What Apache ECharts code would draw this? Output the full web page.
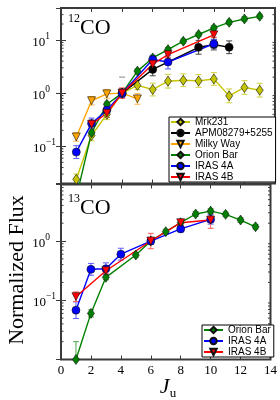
<!DOCTYPE html>
<html><head><meta charset="utf-8">
<script src="https://cdn.jsdelivr.net/npm/echarts@6/dist/echarts.min.js"></script>
<style>html,body{margin:0;padding:0;background:#fff}#c{width:280px;height:400px}</style>
</head><body><div id="c"></div>
<script>
// ---------- 12CO panel ----------
const mrkJ = [1,2,3,4,5,6,7,8,9,10,11,12,13];
const mrkF = [0.024,0.16,0.40,1.0,1.40,1.17,1.68,1.75,1.70,1.85,0.89,1.28,1.14];
const mrkE = [0.1,0.1,0.1,0.06,0.08,0.12,0.13,0.12,0.12,0.12,0.13,0.13,0.13];
const apmJ = [4,6,9,10,11];
const apmF = [1.0,2.8,7.3,8.2,7.3];
const apmE = [0.05,0.12,0.13,0.1,0.12];
const mwJ = [1,2,3,4,5];
const mwF = [0.15,0.72,0.97,1.0,0.78];
const mwE = [0.08,0.08,0.08,0.08,0.1];
const orJ = [1,2,3,4,5,6,7,8,9,10,11,12,13];
const orF = [0.011,0.18,0.62,1.0,2.6,4.6,6.6,9.5,12.7,16.9,21.5,24.9,27.9];
const orE = [0.05,0.05,0.04,0.04,0.04,0.04,0.04,0.04,0.04,0.04,0.04,0.04,0.04];
const a4J = [1,2,3,4,6,7,10];
const a4F = [0.078,0.27,0.48,1.0,4.3,3.85,8.5];
const a4E = [0.12,0.1,0.08,0.08,0.08,0.13,0.08];
const b4J = [2,3,4,6,7,10];
const b4F = [0.26,0.42,1.0,3.5,5.3,12.5];
const b4E = [0.05,0.08,0.1,0.06,0.05,0.05];
const apmLimitJ = [4];
const apmLimitF = [2.0];
// ---------- 13CO panel ----------
const or13J = [1,2,3,5,6,7,8,9,10,11,12,13];
const or13F = [0.01,0.06,0.244,0.58,1.0,1.44,2.04,2.86,3.2,2.82,2.26,1.74];
const or13E = [0.3,0.06,0.04,0.04,0.04,0.04,0.04,0.04,0.04,0.04,0.04,0.04];
const a413J = [1,2,3,4,6,8,10];
const a413F = [0.068,0.333,0.34,0.60,1.0,1.6,2.32];
const a413E = [0.14,0.1,0.1,0.1,0.06,0.05,0.08];
const b413J = [1,3,6,8,10];
const b413F = [0.115,0.315,1.0,2.04,2.26];
const b413E = [0.08,0.05,0.13,0.05,0.14];
// ---------- axes ----------
const xTicks = [0,2,4,6,8,10,12,14];
const topRange = [0.02, 40];
const botRange = [0.01, 9];
const legendTop = ['Mrk231','APM08279+5255','Milky Way','Orion Bar','IRAS 4A','IRAS 4B'];
const legendBot = ['Orion Bar','IRAS 4A','IRAS 4B'];

const serif = '"Liberation Serif", "DejaVu Serif", serif';
const sans = '"Liberation Sans", Arial, sans-serif';
const frame = '#3a3a3a';

const styles = {
  'Mrk231':        {color:'#c4c400', err:'#d0d040', symbol:'diamond', size:[7,10], rot:0},
  'APM08279+5255': {color:'#000000', err:'#444444', symbol:'circle', size:8, rot:0},
  'Milky Way':     {color:'#ffa500', err:'#ffb640', symbol:'triangle', size:8, rot:180},
  'Orion Bar':     {color:'#008000', err:'#4da64d', symbol:'diamond', size:[7,10], rot:0},
  'IRAS 4A':       {color:'#0000ff', err:'#5c5cff', symbol:'circle', size:8, rot:0},
  'IRAS 4B':       {color:'#ff0000', err:'#ff5c5c', symbol:'triangle', size:8, rot:180}
};

function pairs(J, F) { return J.map((j,i)=>[j, F[i]]); }
function errData(J, F, E) { return J.map((j,i)=>[j, F[i]/Math.pow(10,E[i]), F[i]*Math.pow(10,E[i])]); }

function lineSeries(name, J, F, idx) {
  const s = styles[name];
  return {
    type:'line', name, xAxisIndex:idx*2, yAxisIndex:idx*2, data:pairs(J,F),
    symbol:s.symbol, symbolSize:s.size, symbolRotate:s.rot, clip:true,
    lineStyle:{color:s.color, width:1.4},
    itemStyle:{color:s.color, borderColor:'#111', borderWidth:0.6},
    z:3, animation:false, emphasis:{disabled:true}
  };
}
function errSeries(name, J, F, E, idx) {
  const s = styles[name];
  return {
    type:'custom', xAxisIndex:idx*2, yAxisIndex:idx*2, data:errData(J,F,E), clip:true, z:2,
    animation:false, silent:true,
    renderItem(params, api) {
      const a = api.coord([api.value(0), api.value(1)]);
      const b = api.coord([api.value(0), api.value(2)]);
      const st = {stroke:s.err, lineWidth:1};
      return {type:'group', children:[
        {type:'line', shape:{x1:a[0], y1:a[1], x2:b[0], y2:b[1]}, style:st},
        {type:'line', shape:{x1:a[0]-3, y1:a[1], x2:a[0]+3, y2:a[1]}, style:st},
        {type:'line', shape:{x1:b[0]-3, y1:b[1], x2:b[0]+3, y2:b[1]}, style:st}
      ]};
    }
  };
}
function minorVals(r) {
  const out = [];
  for (let k=-3;k<=2;k++) for (let m=2;m<=9;m++) { const v=m*Math.pow(10,k); if (v>r[0]*1.001 && v<r[1]*0.999) out.push([0,v]); }
  return out;
}
function minorSeries(r, idx) {
  return {
    type:'custom', xAxisIndex:idx*2, yAxisIndex:idx*2, data:minorVals(r), z:1, silent:true, animation:false,
    renderItem(params, api) {
      const L = api.coord([xTicks[0], api.value(1)]);
      const R = api.coord([xTicks[xTicks.length-1], api.value(1)]);
      const st = {stroke:frame, lineWidth:1};
      return {type:'group', children:[
        {type:'line', shape:{x1:L[0], y1:L[1], x2:L[0]+2.5, y2:L[1]}, style:st},
        {type:'line', shape:{x1:R[0]-2.5, y1:R[1], x2:R[0], y2:R[1]}, style:st}
      ]};
    }
  };
}

function yLabel(v) {
  const e = Math.round(Math.log10(v));
  const t = String(e).replace('-', '\u2212');
  return e < 0 ? '{b|10}{s|' + t + '}' : '{b|10}{sp|' + t + '}';
}
const yRich = {
  b:{fontFamily:serif, fontSize:13, lineHeight:18, verticalAlign:'bottom', color:'#000'},
  s:{fontFamily:serif, fontSize:9.5, lineHeight:9, verticalAlign:'top', color:'#000'},
  sp:{fontFamily:serif, fontSize:9.5, lineHeight:9, verticalAlign:'top', color:'#000', padding:[0,6,0,0]}
};

function xAx(grid, pos, labels) {
  return {
    type:'value', gridIndex:grid, position:pos, min:xTicks[0], max:xTicks[xTicks.length-1], interval:2,
    axisLine:{show:false}, splitLine:{show:false},
    axisTick:{show:true, inside:true, length:4, lineStyle:{color:frame, width:1}},
    axisLabel:{show:labels, margin:5, fontFamily:serif, fontSize:13, color:'#000', showMinLabel:true, showMaxLabel:true}
  };
}
function yAx(grid, pos, r, labels) {
  return {
    type:'log', logBase:10, gridIndex:grid, position:pos, min:r[0], max:r[1],
    axisLine:{show:false}, splitLine:{show:false},
    axisTick:{show:true, inside:true, length:5, lineStyle:{color:frame, width:1}},
    axisLabel:{show:labels, margin:5, formatter:yLabel, rich:yRich, showMinLabel:false, showMaxLabel:false}
  };
}

const legendCommon = {
  orient:'vertical', backgroundColor:'#fff', borderColor:'#000', borderWidth:1, borderRadius:0,
  padding:[0,3,0,1], itemGap:1, itemWidth:19, itemHeight:8, selectedMode:false, z:10,
  textStyle:{fontFamily:sans, fontSize:10, color:'#000', lineHeight:8}
};
const titleRich = {
  s:{fontFamily:serif, fontSize:12, fontWeight:'normal', lineHeight:22, verticalAlign:'top', color:'#000'},
  b:{fontFamily:serif, fontSize:22, fontWeight:'normal', lineHeight:26, verticalAlign:'bottom', color:'#000'}
};

const option = {
  animation:false,
  backgroundColor:'#fff',
  grid:[
    {left:61, top:8, width:214, height:175.5, show:true, borderColor:frame, borderWidth:2, backgroundColor:'transparent'},
    {left:61, top:184.5, width:214, height:175, show:true, borderColor:frame, borderWidth:2, backgroundColor:'transparent'}
  ],
  xAxis:[xAx(0,'bottom',false), xAx(0,'top',false), xAx(1,'bottom',true), xAx(1,'top',false)],
  yAxis:[yAx(0,'left',topRange,true), yAx(0,'right',topRange,false), yAx(1,'left',botRange,true), yAx(1,'right',botRange,false)],
  legend:[
    Object.assign({data:legendTop, left:169, top:117}, legendCommon),
    Object.assign({data:legendBot, left:202, top:325}, legendCommon)
  ],
  title:[
    {text:'{s|12}{b|CO}', left:68, top:13, padding:0, textStyle:{fontWeight:'normal', rich:titleRich}},
    {text:'{s|13}{b|CO}', left:68, top:193, padding:0, textStyle:{fontWeight:'normal', rich:titleRich}}
  ],
  graphic:[
    {type:'text', x:17, y:270, rotation:Math.PI/2, silent:true,
     style:{text:'Normalized Flux', font:'22px ' + serif, fill:'#000', align:'center', verticalAlign:'middle'}},
    {type:'text', x:168, y:388, silent:true,
     style:{text:'{j|J}{u|u}', align:'center', verticalAlign:'middle',
       rich:{j:{fontFamily:serif, fontStyle:'italic', fontSize:22, lineHeight:24, verticalAlign:'top', fill:'#000'},
             u:{fontFamily:serif, fontSize:13, lineHeight:16, verticalAlign:'bottom', fill:'#000'}}}}
  ],
  series:[
    minorSeries(topRange,0), minorSeries(botRange,1),
    errSeries('Mrk231', mrkJ, mrkF, mrkE, 0), lineSeries('Mrk231', mrkJ, mrkF, 0),
    errSeries('APM08279+5255', apmJ, apmF, apmE, 0), lineSeries('APM08279+5255', apmJ, apmF, 0),
    errSeries('Milky Way', mwJ, mwF, mwE, 0), lineSeries('Milky Way', mwJ, mwF, 0),
    errSeries('Orion Bar', orJ, orF, orE, 0), lineSeries('Orion Bar', orJ, orF, 0),
    errSeries('IRAS 4A', a4J, a4F, a4E, 0), lineSeries('IRAS 4A', a4J, a4F, 0),
    errSeries('IRAS 4B', b4J, b4F, b4E, 0), lineSeries('IRAS 4B', b4J, b4F, 0),
    {type:'scatter', xAxisIndex:0, yAxisIndex:0, data:pairs(apmLimitJ, apmLimitF), symbol:'rect', symbolSize:[6,1.5],
     itemStyle:{color:'#999'}, silent:true, z:2},
    errSeries('Orion Bar', or13J, or13F, or13E, 1), lineSeries('Orion Bar', or13J, or13F, 1),
    errSeries('IRAS 4A', a413J, a413F, a413E, 1), lineSeries('IRAS 4A', a413J, a413F, 1),
    errSeries('IRAS 4B', b413J, b413F, b413E, 1), lineSeries('IRAS 4B', b413J, b413F, 1)
  ]
};
const chart = echarts.init(document.getElementById('c'), null, {renderer:'canvas'});
chart.setOption(option);
</script></body></html>
